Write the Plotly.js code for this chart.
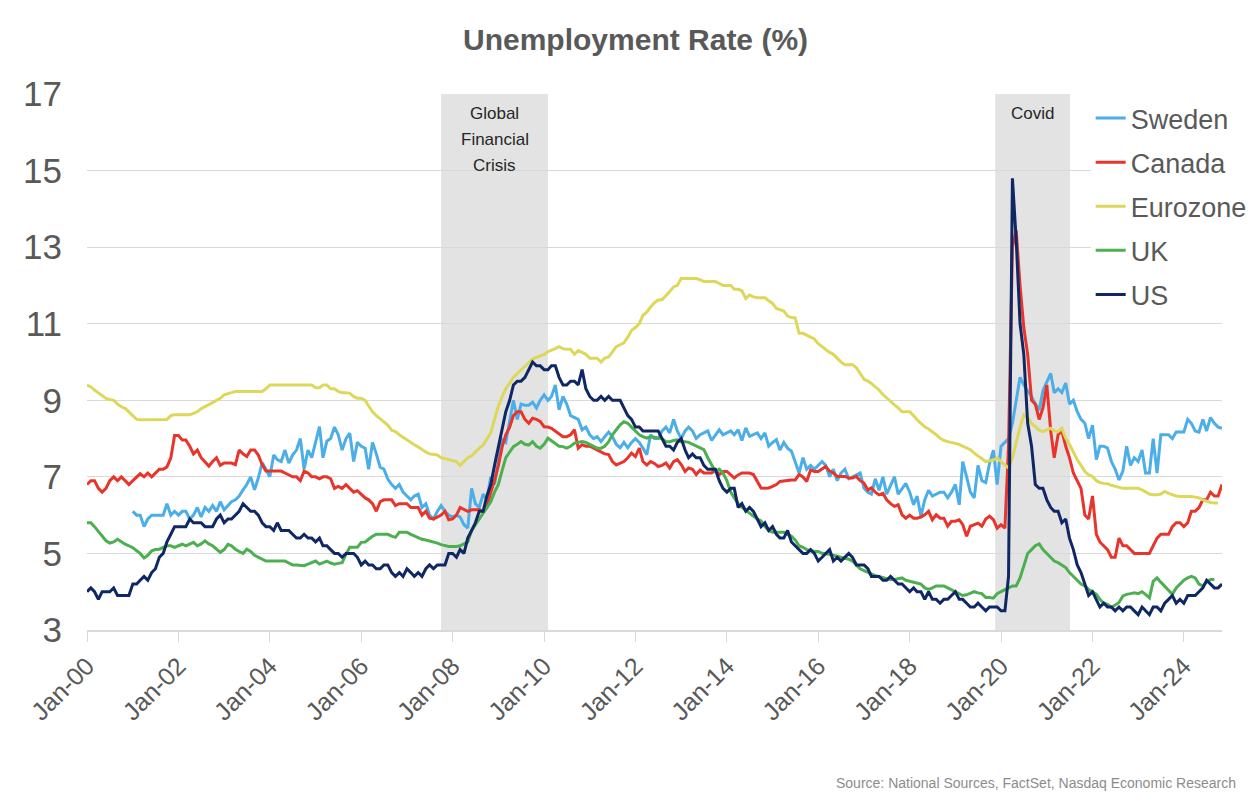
<!DOCTYPE html>
<html>
<head>
<meta charset="utf-8">
<script src="https://cdn.plot.ly/plotly-3.0.1.min.js"></script>
<style>
  html, body { margin: 0; padding: 0; background: #ffffff; }
  #chart { width: 1256px; height: 802px; }
</style>
</head>
<body>
<div id="chart"></div>
<script>
// ---------- DATA (monthly unemployment rate, %) ----------
const seriesNames = ["Sweden", "Canada", "Eurozone", "UK", "US"];
const seriesStart = { Sweden: "2001-01", Canada: "2000-01", Eurozone: "2000-01", UK: "2000-01", US: "2000-01" };

const sweden = [
  6.1,6.0,6.0,5.7,5.9,6.0,6.0,6.0,6.0,6.3,6.0,6.1,            // 2001
  6.0,6.1,6.1,5.9,6.0,6.2,5.95,6.2,6.1,6.25,6.1,6.35,         // 2002
  6.14,6.25,6.35,6.4,6.5,6.66,6.8,7.0,6.66,6.97,7.37,7.2,     // 2003
  7.0,7.57,7.45,7.4,7.7,7.36,7.57,7.7,8.0,7.2,7.7,7.5,        // 2004
  7.9,8.31,7.5,7.93,8.0,8.3,8.1,7.7,8.0,8.14,7.4,7.9,         // 2005
  7.8,7.75,7.2,7.9,7.6,7.25,7.2,6.94,6.8,6.7,6.8,6.6,         // 2006
  6.5,6.4,6.5,6.55,6.2,6.3,6.0,5.9,6.1,6.25,6.1,6.0,          // 2007
  5.95,6.0,5.95,5.75,5.66,6.7,6.3,6.2,6.55,6.4,7.0,6.8,       // 2008
  7.4,7.97,7.9,8.5,9.0,8.5,8.9,8.87,8.87,8.95,8.8,9.0,        // 2009
  9.14,9.0,9.1,9.4,8.75,9.1,8.9,8.6,8.55,8.5,8.23,8.3,        // 2010
  8.1,8.0,8.05,7.92,8.05,8.17,8.05,7.85,7.76,7.9,7.76,7.9,    // 2011
  8.0,7.9,7.75,7.58,8.1,8.0,8.0,8.2,8.3,8.15,8.5,8.2,         // 2012
  8.0,8.2,8.3,8.2,8.0,8.1,8.15,8.2,7.95,8.1,8.23,8.1,         // 2013
  8.15,8.2,8.1,8.23,7.95,8.28,8.06,8.1,8.15,8.0,8.15,7.8,     // 2014
  7.9,7.97,7.7,7.9,7.75,7.67,7.4,7.1,7.5,7.2,7.3,7.2,         // 2015
  7.3,7.4,7.3,7.0,7.2,6.9,7.1,7.2,6.95,7.0,7.05,7.1,          // 2016
  6.7,6.6,6.55,6.95,6.65,7.0,6.55,6.8,7.0,6.55,6.7,6.83,      // 2017
  6.6,6.27,6.5,5.97,6.4,6.65,6.5,6.55,6.6,6.6,6.45,6.6,       // 2018
  6.8,6.27,7.4,7.0,6.6,6.45,7.3,6.9,6.85,7.35,7.7,6.8,        // 2019
  7.8,7.9,8.0,8.4,9.0,9.6,9.4,9.26,9.1,8.9,8.75,9.25,         // 2020
  9.5,9.7,9.2,9.3,9.2,9.45,8.9,9.0,8.7,8.5,8.4,8.0,           // 2021
  8.35,7.45,7.8,7.8,7.75,7.4,7.2,6.92,7.15,7.8,7.3,7.5,       // 2022
  7.4,7.7,7.1,7.1,8.0,7.1,8.1,8.1,8.1,8.0,8.17,8.17,          // 2023
  8.17,8.5,8.4,8.2,8.17,8.5,8.2,8.55,8.4,8.3,8.27             // 2024
];

const canada = [
  6.8,6.9,6.9,6.7,6.6,6.7,6.9,7.0,6.9,7.0,6.9,6.8,            // 2000
  6.9,7.0,7.08,7.0,7.1,7.0,7.1,7.2,7.2,7.26,7.5,8.08,         // 2001
  8.08,7.96,7.96,7.8,7.6,7.7,7.5,7.4,7.28,7.4,7.5,7.3,        // 2002
  7.36,7.36,7.36,7.32,7.7,7.6,7.53,7.7,7.7,7.57,7.32,7.15,    // 2003
  7.15,7.15,7.15,7.15,7.1,7.05,7.0,7.0,6.9,7.15,7.1,7.0,      // 2004
  7.0,6.95,7.0,7.0,6.95,6.7,6.75,6.7,6.8,6.7,6.6,6.64,        // 2005
  6.55,6.45,6.4,6.3,6.1,6.35,6.4,6.4,6.4,6.25,6.3,6.3,        // 2006
  6.3,6.2,6.2,6.2,6.0,6.1,5.92,5.9,5.95,6.0,6.1,5.88,         // 2007
  5.9,6.0,6.2,6.14,6.1,6.14,6.14,6.14,6.1,6.2,6.6,6.9,        // 2008
  7.3,7.8,8.1,8.3,8.6,8.7,8.7,8.5,8.4,8.53,8.5,8.45,          // 2009
  8.31,8.3,8.27,8.2,8.14,8.05,8.05,8.1,8.23,7.75,7.84,7.8,    // 2010
  7.8,7.75,7.7,7.66,7.6,7.58,7.4,7.31,7.35,7.4,7.5,7.62,      // 2011
  7.53,7.75,7.4,7.31,7.4,7.35,7.27,7.3,7.36,7.23,7.4,7.45,    // 2012
  7.32,7.14,7.23,7.2,7.06,7.18,7.1,7.1,7.1,7.18,7.06,7.14,    // 2013
  7.14,7.05,6.97,7.05,7.1,7.1,7.1,7.06,6.9,6.71,6.7,6.71,     // 2014
  6.75,6.8,6.88,6.9,6.92,6.92,6.92,7.06,7.0,6.88,7.18,7.14,   // 2015
  7.14,7.2,7.27,7.15,7.1,7.01,7.01,7.01,6.97,6.97,7.01,6.9,   // 2016
  6.84,6.66,6.71,6.6,6.53,6.57,6.4,6.3,6.23,6.27,6.01,5.92,   // 2017
  6.0,5.92,5.92,5.95,6.01,6.1,5.88,6.01,5.92,5.92,5.71,5.84,  // 2018
  5.84,5.88,5.75,5.45,5.71,5.75,5.79,5.71,5.9,5.97,5.88,5.66, // 2019
  5.75,5.66,7.8,13.0,13.44,12.0,10.9,10.2,9.0,8.9,8.5,8.8,    // 2020
  9.4,8.2,7.5,8.1,8.2,7.8,7.5,7.1,6.9,6.7,6.0,5.9,            // 2021
  6.5,5.5,5.3,5.2,5.1,4.9,4.9,5.4,5.2,5.2,5.1,5.0,            // 2022
  5.0,5.0,5.0,5.0,5.2,5.4,5.5,5.5,5.5,5.7,5.8,5.8,            // 2023
  5.7,5.8,6.1,6.1,6.2,6.4,6.4,6.6,6.5,6.5,6.8                 // 2024
];

const eurozone = [
  9.4,9.35,9.27,9.2,9.14,9.05,9.02,9.0,8.9,8.83,8.79,8.7,           // 2000
  8.6,8.5,8.49,8.49,8.49,8.49,8.49,8.49,8.49,8.5,8.6,8.62,          // 2001
  8.62,8.62,8.62,8.62,8.66,8.7,8.78,8.83,8.87,8.94,9.0,9.05,        // 2002
  9.14,9.18,9.2,9.23,9.23,9.23,9.23,9.23,9.23,9.23,9.23,9.3,        // 2003
  9.4,9.4,9.4,9.4,9.4,9.4,9.4,9.4,9.4,9.4,9.4,9.4,                  // 2004
  9.33,9.33,9.4,9.4,9.3,9.3,9.23,9.2,9.2,9.18,9.1,9.05,             // 2005
  9.05,9.0,8.85,8.7,8.6,8.52,8.44,8.35,8.22,8.18,8.1,8.03,          // 2006
  7.97,7.9,7.84,7.78,7.71,7.65,7.6,7.58,7.57,7.5,7.47,7.45,         // 2007
  7.43,7.4,7.3,7.4,7.5,7.55,7.66,7.75,7.83,8.0,8.15,8.5,            // 2008
  8.85,9.1,9.3,9.45,9.6,9.7,9.8,9.9,10.0,10.08,10.12,10.15,         // 2009
  10.2,10.27,10.3,10.35,10.4,10.35,10.33,10.33,10.2,10.3,10.25,10.2,// 2010
  10.1,10.1,10.1,10.0,10.1,10.13,10.25,10.4,10.45,10.5,10.65,10.83, // 2011
  10.9,11.0,11.22,11.3,11.44,11.55,11.62,11.63,11.73,11.85,11.96,12.0, // 2012
  12.18,12.18,12.18,12.18,12.18,12.15,12.1,12.1,12.1,12.1,12.05,12.0,  // 2013
  12.0,12.0,11.9,11.9,11.86,11.66,11.75,11.7,11.68,11.68,11.68,11.6,   // 2014
  11.53,11.4,11.36,11.33,11.2,11.16,11.15,10.75,10.75,10.7,10.66,10.6, // 2015
  10.48,10.4,10.31,10.25,10.2,10.1,10.0,9.93,9.93,9.93,9.85,9.7,    // 2016
  9.55,9.5,9.44,9.35,9.27,9.15,9.06,8.95,8.88,8.8,8.7,8.7,          // 2017
  8.7,8.6,8.49,8.4,8.31,8.25,8.18,8.1,8.01,7.95,7.92,7.9,           // 2018
  7.88,7.85,7.8,7.75,7.71,7.62,7.55,7.49,7.4,7.42,7.44,7.49,        // 2019
  7.4,7.3,7.23,7.5,7.9,8.3,8.62,8.55,8.4,8.31,8.22,8.18,            // 2020
  8.22,8.27,8.2,8.18,8.27,8.01,7.85,7.65,7.45,7.3,7.14,7.05,        // 2021
  7.01,6.9,6.85,6.83,6.82,6.78,6.75,6.72,6.7,6.7,6.7,6.7,           // 2022
  6.7,6.66,6.6,6.55,6.53,6.53,6.55,6.62,6.57,6.53,6.5,6.49,         // 2023
  6.49,6.49,6.49,6.47,6.45,6.4,6.36,6.33,6.32,6.32                  // 2024
];

const uk = [
  5.8,5.8,5.7,5.58,5.45,5.33,5.27,5.3,5.37,5.3,5.24,5.2,       // 2000
  5.15,5.07,5.0,4.88,4.95,5.07,5.1,5.11,5.16,5.2,5.2,5.16,     // 2001
  5.2,5.24,5.2,5.25,5.29,5.2,5.25,5.33,5.25,5.2,5.1,5.03,      // 2002
  5.1,5.24,5.2,5.11,5.05,5.0,5.11,5.05,4.95,4.9,4.85,4.8,      // 2003
  4.8,4.8,4.8,4.8,4.8,4.75,4.7,4.7,4.68,4.68,4.72,4.75,        // 2004
  4.8,4.72,4.75,4.8,4.75,4.72,4.74,4.76,4.98,5.16,5.16,5.16,   // 2005
  5.29,5.3,5.37,5.45,5.5,5.5,5.5,5.5,5.45,5.42,5.55,5.55,      // 2006
  5.55,5.5,5.46,5.42,5.37,5.35,5.33,5.3,5.27,5.23,5.2,5.18,    // 2007
  5.18,5.18,5.2,5.25,5.3,5.6,5.75,5.9,6.06,6.2,6.35,6.6,       // 2008
  6.8,7.18,7.5,7.65,7.79,7.85,7.92,7.85,7.83,7.92,7.8,7.75,    // 2009
  7.85,8.01,7.95,7.88,7.8,7.79,7.75,7.8,7.88,7.9,7.92,7.9,     // 2010
  7.85,7.8,7.75,7.75,7.8,7.92,8.1,8.23,8.36,8.44,8.4,8.3,      // 2011
  8.2,8.1,8.05,8.01,8.05,8.03,8.01,8.0,7.92,7.92,7.95,7.97,    // 2012
  7.92,7.92,7.9,7.85,7.8,7.75,7.71,7.5,7.3,7.14,7.2,7.1,       // 2013
  6.9,6.6,6.45,6.3,6.2,6.12,6.05,5.96,5.9,5.85,5.7,5.6,        // 2014
  5.55,5.55,5.55,5.55,5.5,5.45,5.35,5.2,5.16,5.1,5.07,5.05,    // 2015
  5.05,5.0,5.0,4.98,4.95,4.93,4.9,4.88,4.85,4.8,4.7,4.6,       // 2016
  4.55,4.5,4.45,4.42,4.4,4.36,4.34,4.32,4.32,4.34,4.36,4.3,    // 2017
  4.27,4.25,4.22,4.2,4.1,4.06,4.1,4.15,4.15,4.15,4.1,4.05,     // 2018
  4.02,3.95,3.9,3.92,3.95,4.0,3.97,3.95,3.85,3.85,3.83,3.95,   // 2019
  4.0,4.06,4.1,4.15,4.15,4.36,4.66,5.0,5.1,5.2,5.25,5.1,       // 2020
  5.0,4.9,4.8,4.76,4.7,4.63,4.5,4.4,4.3,4.2,4.15,4.06,         // 2021
  4.0,3.93,3.8,3.7,3.67,3.59,3.65,3.72,3.89,3.93,3.95,3.97,    // 2022
  3.95,4.0,3.93,3.84,4.27,4.36,4.25,4.15,4.05,3.93,4.1,4.2,    // 2023
  4.3,4.36,4.4,4.36,4.2,4.15,4.25,4.32,4.32                    // 2024
];

const us = [
  4.0,4.1,4.0,3.8,4.0,4.0,4.0,4.1,3.9,3.9,3.9,3.9,      // 2000
  4.2,4.2,4.3,4.4,4.3,4.5,4.6,4.9,5.0,5.3,5.5,5.7,      // 2001
  5.7,5.7,5.7,5.9,5.8,5.8,5.8,5.7,5.7,5.7,5.9,6.0,      // 2002
  5.8,5.9,5.9,6.0,6.1,6.3,6.2,6.1,6.1,6.0,5.8,5.7,      // 2003
  5.7,5.6,5.8,5.6,5.6,5.6,5.5,5.4,5.4,5.5,5.4,5.4,      // 2004
  5.3,5.4,5.2,5.2,5.1,5.0,5.0,4.9,5.0,5.0,5.0,4.9,      // 2005
  4.7,4.8,4.7,4.7,4.6,4.6,4.7,4.7,4.5,4.4,4.5,4.4,      // 2006
  4.6,4.5,4.4,4.5,4.4,4.6,4.7,4.6,4.7,4.7,4.7,5.0,      // 2007
  5.0,4.9,5.1,5.0,5.4,5.6,5.8,6.1,6.1,6.5,6.8,7.3,      // 2008
  7.8,8.3,8.7,9.0,9.4,9.5,9.5,9.6,9.8,10.0,9.9,9.9,     // 2009
  9.8,9.8,9.9,9.9,9.6,9.4,9.4,9.5,9.5,9.4,9.8,9.3,      // 2010
  9.1,9.0,9.0,9.1,9.0,9.1,9.0,9.0,9.0,8.8,8.6,8.5,      // 2011
  8.3,8.3,8.2,8.2,8.2,8.2,8.2,8.0,7.8,7.8,7.7,7.9,      // 2012
  8.0,7.7,7.5,7.6,7.5,7.5,7.3,7.2,7.2,7.2,6.9,6.7,      // 2013
  6.6,6.7,6.7,6.2,6.3,6.1,6.2,6.1,5.9,5.7,5.8,5.6,      // 2014
  5.7,5.5,5.4,5.4,5.6,5.3,5.2,5.1,5.0,5.0,5.1,5.0,      // 2015
  4.8,4.9,5.0,5.1,4.8,4.9,4.8,4.9,5.0,4.9,4.7,4.7,      // 2016
  4.7,4.6,4.4,4.4,4.4,4.3,4.3,4.4,4.3,4.2,4.2,4.1,      // 2017
  4.0,4.1,4.0,4.0,3.8,4.0,3.8,3.8,3.7,3.8,3.8,3.9,      // 2018
  4.0,3.8,3.8,3.7,3.6,3.6,3.7,3.6,3.5,3.6,3.6,3.6,      // 2019
  3.5,3.5,4.4,14.8,13.2,11.0,10.2,8.4,7.8,6.8,6.7,6.7,  // 2020
  6.4,6.2,6.1,6.1,5.8,5.9,5.4,5.1,4.7,4.5,4.2,3.9,      // 2021
  4.0,3.8,3.6,3.7,3.6,3.6,3.5,3.6,3.5,3.6,3.6,3.5,      // 2022
  3.4,3.6,3.5,3.4,3.6,3.6,3.5,3.7,3.8,3.9,3.7,3.8,      // 2023
  3.7,3.9,3.9,3.9,4.0,4.1,4.3,4.2,4.1,4.1,4.2           // 2024
];

const seriesValues = { Sweden: sweden, Canada: canada, Eurozone: eurozone, UK: uk, US: us };
const seriesColors = { Sweden: "#4BAEE8", Canada: "#E8342A", Eurozone: "#DDD75A", UK: "#4CAF50", US: "#0F2764" };

// Shaded periods
const periodLines = [["Global", "Financial", "Crisis"], ["Covid"]];
const periodStart = ["2007-10-01", "2019-11-15"];
const periodEnd   = ["2010-02-01", "2021-07-05"];

const titleText = "Unemployment Rate (%)";
const sourceText = "Source: National Sources, FactSet, Nasdaq Economic Research";

// ---------- BUILD ----------
function monthlyDates(start, n) {
  const [y0, m0] = start.split("-").map(Number);
  const out = [];
  for (let i = 0; i < n; i++) {
    const t = (m0 - 1) + i;
    const y = y0 + Math.floor(t / 12);
    const m = (t % 12) + 1;
    out.push(y + "-" + String(m).padStart(2, "0") + "-01");
  }
  return out;
}

const FONT = "Liberation Sans, Arial, sans-serif";

const traces = seriesNames.map((name, i) => ({
  type: "scatter",
  mode: "lines",
  name: name,
  legendgroup: "g" + i,
  x: monthlyDates(seriesStart[name], seriesValues[name].length),
  y: seriesValues[name],
  line: { color: seriesColors[name], width: 3 },
  hoverinfo: "skip"
}));

const shapes = periodStart.map((s, i) => ({
  type: "rect", xref: "x", yref: "paper",
  x0: s, x1: periodEnd[i], y0: 0, y1: 1,
  fillcolor: "#E3E3E3", line: { width: 0 }, layer: "below"
}));

function midDate(a, b) {
  const ta = new Date(a).getTime(), tb = new Date(b).getTime();
  return new Date((ta + tb) / 2).toISOString().slice(0, 10);
}

const annotations = [];
periodLines.forEach((lines, i) => {
  lines.forEach((txt, j) => {
    annotations.push({
      xref: "x", yref: "paper",
      x: midDate(periodStart[i], periodEnd[i]), y: 1,
      xanchor: "center", yanchor: "middle", yshift: -19 - 26 * j,
      text: txt, showarrow: false,
      font: { family: FONT, size: 17, color: "#262626" }
    });
  });
});
annotations.push({
  xref: "paper", yref: "paper", x: 1.0141, y: -0.286,
  xanchor: "right", yanchor: "middle",
  text: sourceText, showarrow: false,
  font: { family: FONT, size: 14, color: "#8C8C8C" }
});

const layout = {
  width: 1256, height: 802,
  margin: { l: 87, r: 34, t: 94, b: 172, autoexpand: false },
  paper_bgcolor: "#ffffff", plot_bgcolor: "#ffffff",
  title: {
    text: "<b>" + titleText + "</b>",
    x: 0.506, xanchor: "center", y: 0.951, yanchor: "middle",
    font: { family: FONT, size: 30, color: "#595959" }
  },
  xaxis: {
    type: "date",
    range: ["2000-01-01", "2024-11-01"],
    tick0: "2000-01-01", dtick: "M24", tickformat: "%b-%y",
    tickangle: -45, automargin: false,
    ticks: "outside", ticklen: 10, tickcolor: "#D9D9D9", tickwidth: 1,
    showline: true, linecolor: "#D9D9D9", linewidth: 1.5,
    showgrid: false, zeroline: false,
    tickfont: { family: FONT, size: 25, color: "#595959" }
  },
  yaxis: {
    range: [3, 17], dtick: 2, tick0: 3, automargin: false,
    showgrid: true, gridcolor: "#D9D9D9", gridwidth: 1,
    zeroline: false, showline: false, ticks: "",
    ticklabelstandoff: 24,
    tickfont: { family: FONT, size: 35, color: "#595959" }
  },
  legend: {
    x: 0.8843, y: 1, xanchor: "left", yanchor: "top",
    bgcolor: "#ffffff", borderwidth: 0,
    font: { family: FONT, size: 27, color: "#595959" },
    tracegroupgap: 6, itemwidth: 30
  },
  shapes: shapes,
  annotations: annotations,
  showlegend: true
};

Plotly.newPlot("chart", traces, layout, { staticPlot: true, displayModeBar: false });
</script>
</body>
</html>
